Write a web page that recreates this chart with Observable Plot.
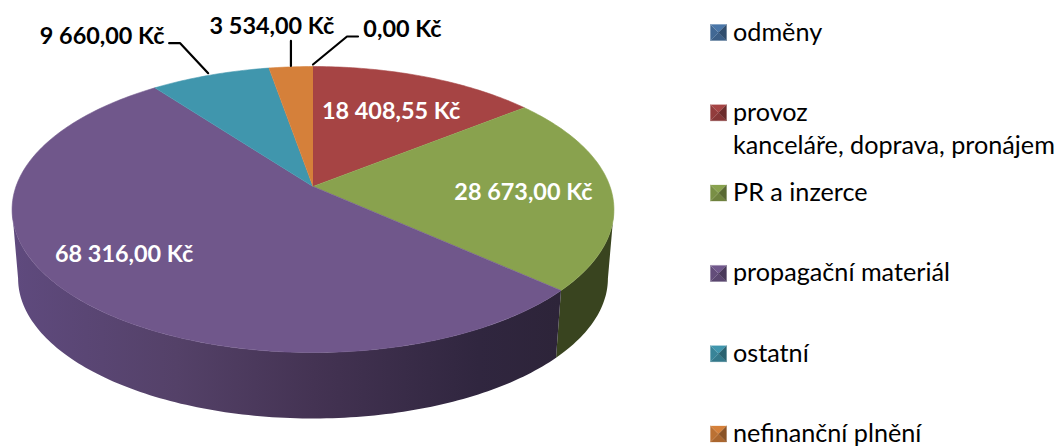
<!DOCTYPE html>
<html><head><meta charset="utf-8">
<script src="https://cdn.jsdelivr.net/npm/d3@7"></script>
<script src="https://cdn.jsdelivr.net/npm/@observablehq/plot@0.6"></script>
<style>html,body{margin:0;padding:0;background:#fff}svg{display:block}</style>
</head><body><div id="chart"></div>
<script>
// --- data ---
const categories = ["odměny", "provoz", "PR a inzerce", "propagační materiál", "ostatní", "nefinanční plnění"];
const values = [0, 18408.55, 28673, 68316, 9660, 3534];
const valueLabels = ["0,00 Kč", "18 408,55 Kč", "28 673,00 Kč", "68 316,00 Kč", "9 660,00 Kč", "3 534,00 Kč"];
const colors = ["#4a76a8", "#a64444", "#89a24e", "#70578b", "#4096ad", "#d5803a"];
const legendSub = "kanceláře, doprava, pronájem";

// --- layout ---
const W = 1057, H = 447;
const cx = 312.5, cy = 186, A = 297, B = 139.3, k = 0.161;
const shrink = 0.98, drop = 73;
const font = "Lato, Carlito, sans-serif";
const rad = d => d * Math.PI / 180;
function P(deg, r = 1) {
  const u = r * Math.sin(rad(deg)), v = -r * Math.cos(rad(deg)), d = 1 - k * v;
  return {x: cx + A * u / d, y: cy + B * v / d};
}
function Q(deg) {
  const p = P(deg);
  return {x: cx + shrink * (p.x - cx), y: drop + shrink * p.y};
}
const arc = (a, b) => {
  const n = Math.max(1, Math.ceil(Math.abs(b - a)));
  return d3.range(n + 1).map(i => a + (b - a) * i / n);
};
const deg = r => r * 180 / Math.PI;
const pie = d3.pie().sort(null)(values);
const slices = pie.map(s => ({a: deg(s.startAngle), b: deg(s.endAngle), mid: deg(s.startAngle + s.endAngle) / 2}));

const silR = 99.3, silL = 260.7;
const face = s => [{x: cx, y: cy}, ...arc(s.a, s.b).map(d => P(d))];
const wall = (a, b) => [...arc(a, b).map(d => P(d)), ...arc(a, b).reverse().map(d => Q(d))];
const greenWall = wall(silR, slices[2].b);
const purpleWall = wall(slices[3].a, silL);
const purpleRim = arc(slices[3].a, silL + 12).map(d => P(d));
const greenRim = arc(silR - 10, slices[2].b).map(d => P(d));

// inside labels: [slice, radius, dx, dy]
const inside = [[1, .7, -4, 5], [2, .7, 2, 3], [3, .77, -5, -11]].map(([i, r, dx, dy]) => {
  const p = P(slices[i].mid, r);
  return {x: p.x + dx, y: p.y + dy, t: valueLabels[i]};
});
// outside labels with leaders, offsets from the rim point of each slice
const outside = [
  {i: 4, start: [-2, -2], knee: [-30, -32], end: [-41, -32], tx: -108, ty: -39},
  {i: 5, start: [0, -1], knee: [0, -13], end: [0, -26], tx: -19, ty: -40},
  {i: 0, start: [0, -2], knee: [34, -30], end: [45, -30], tx: 89.5, ty: -37}
].map(o => {
  const p = P(slices[o.i].mid);
  const at = ([dx, dy]) => ({x: p.x + dx, y: p.y + dy});
  return {leader: [at(o.start), at(o.knee), at(o.end)], x: p.x + o.tx, y: p.y + o.ty, t: valueLabels[o.i]};
});

// legend
const legX = 710, legS = 16, legTop = 32, legStep = 80.3, legTextX = 732.5, legSubDy = 33;
const rows = categories.map((c, i) => ({c, i, y: legTop + i * legStep}));
const shade = (col, f) => f > 0 ? d3.interpolateRgb(col, "#fff")(f) : d3.interpolateRgb(col, "#000")(-f);
const swatchParts = rows.flatMap(r => {
  const x0 = legX, x1 = legX + legS, y0 = r.y - legS / 2, y1 = r.y + legS / 2, mx = legX + legS / 2, my = r.y;
  return [
    {pts: [[x0, y0], [x1, y0], [mx, my]], f: 0},
    {pts: [[x0, y1], [x1, y1], [mx, my]], f: -0.2},
    {pts: [[x0, y0], [x0, y1], [mx, my]], f: -0.12},
    {pts: [[x1, y0], [x1, y1], [mx, my]], f: -0.35}
  ].map(t => ({pts: t.pts.map(([x, y]) => ({x, y})), col: shade(colors[r.i], t.f)}));
});

const poly = (pts, fill) => Plot.line(pts, {x: "x", y: "y", fill, stroke: fill, strokeWidth: 0.6});

const defs = () => {
  const d = d3.create("svg:defs");
  const grad = (id, stops) => {
    const g = d.append("linearGradient").attr("id", id).attr("x1", 0).attr("x2", 1).attr("y1", 0).attr("y2", 0);
    stops.forEach(([o, c]) => g.append("stop").attr("offset", o).attr("stop-color", c));
  };
  grad("sideP", [[0, "#5f4a7e"], [.3, "#544168"], [.55, "#443353"], [.85, "#30263f"], [1, "#2d2439"]]);
  grad("rimP", [[0, "#8a6eb3"], [.4, "#8568a8"], [.58, "#6a5184"], [.85, "#3f3152"], [1, "#33293f"]]);
  d.append("filter").attr("id", "soft").attr("x", "-5%").attr("y", "-5%").attr("width", "110%").attr("height", "110%")
    .append("feGaussianBlur").attr("stdDeviation", 1.2);
  return d.node();
};

const chart = Plot.plot({
  width: W, height: H, margin: 0,
  x: {domain: [0, W], range: [0, W], axis: null},
  y: {domain: [0, H], range: [0, H], axis: null},
  style: {fontFamily: font, background: "#fff", overflow: "visible"},
  marks: [
    defs,
    Plot.line(greenWall, {x: "x", y: "y", fill: "#39441f"}),
    Plot.line(purpleWall, {x: "x", y: "y", fill: "url(#sideP)"}),
    ...slices.map((s, i) => poly(face(s), colors[i])),
    Plot.line(greenRim, {x: "x", y: "y", stroke: "#3f4b22", strokeWidth: 3, ariaLabel: "rim"}),
    Plot.line(purpleRim, {x: "x", y: "y", stroke: "url(#rimP)", strokeWidth: 2.6, ariaLabel: "rim"}),
    ...outside.map(o => Plot.line(o.leader, {x: "x", y: "y", stroke: "#000", strokeWidth: 2.2, strokeLinejoin: "miter"})),
    Plot.text(inside, {x: "x", y: "y", text: "t", fill: "#fff", fontWeight: 700, fontSize: 23.4, textAnchor: "middle"}),
    Plot.text(outside, {x: "x", y: "y", text: "t", fill: "#000", fontWeight: 700, fontSize: 23.4, textAnchor: "middle"}),
    ...swatchParts.map(p => Plot.line(p.pts, {x: "x", y: "y", fill: p.col, stroke: p.col, strokeWidth: 0.3})),
    Plot.text(rows, {x: () => legTextX, y: "y", text: "c", textAnchor: "start", fontSize: 25.2, fill: "#000"}),
    Plot.text([legendSub], {x: () => legTextX, y: () => rows[1].y + legSubDy, text: d => d, textAnchor: "start", fontSize: 25.2, fill: "#000"})
  ]
});
chart.querySelectorAll('[aria-label="rim"]').forEach(g => g.setAttribute("filter", "url(#soft)"));
document.getElementById("chart").append(chart);
</script>
</body></html>
